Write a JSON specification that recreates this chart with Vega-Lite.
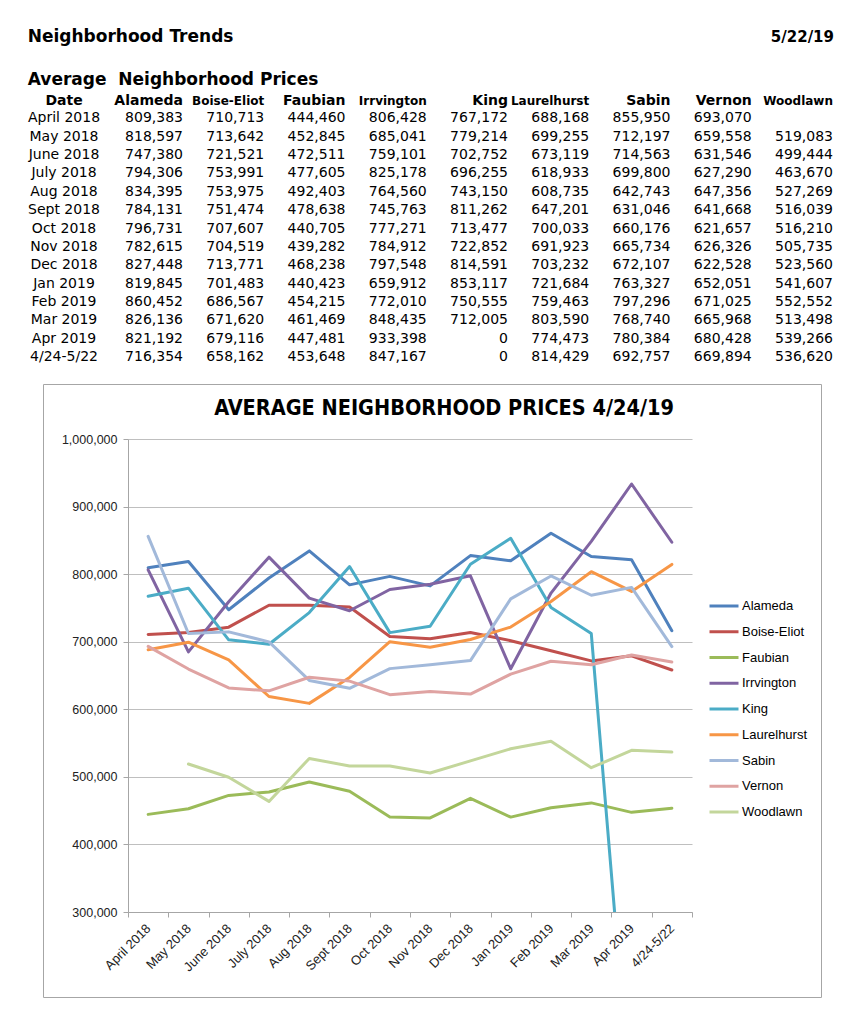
{
  "$schema": "https://vega.github.io/schema/vega-lite/v6.json",
  "background": "white",
  "padding": {"left": 27, "top": 28, "right": 0, "bottom": 0},
  "spacing": 20,
  "resolve": {"legend": {"color": "independent"}},
  "config": {
    "view": {"stroke": null},
    "font": "Liberation Sans",
    "text": {"font": "DejaVu Sans", "fontSize": 14, "color": "#000", "baseline": "alphabetic"}
  },
  "datasets": {
    "prices": [
      {"date": "April 2018", "Alameda": 809383, "Boise-Eliot": 710713, "Faubian": 444460, "Irrvington": 806428, "King": 767172, "Laurelhurst": 688168, "Sabin": 855950, "Vernon": 693070, "Woodlawn": null},
      {"date": "May 2018", "Alameda": 818597, "Boise-Eliot": 713642, "Faubian": 452845, "Irrvington": 685041, "King": 779214, "Laurelhurst": 699255, "Sabin": 712197, "Vernon": 659558, "Woodlawn": 519083},
      {"date": "June 2018", "Alameda": 747380, "Boise-Eliot": 721521, "Faubian": 472511, "Irrvington": 759101, "King": 702752, "Laurelhurst": 673119, "Sabin": 714563, "Vernon": 631546, "Woodlawn": 499444},
      {"date": "July 2018", "Alameda": 794306, "Boise-Eliot": 753991, "Faubian": 477605, "Irrvington": 825178, "King": 696255, "Laurelhurst": 618933, "Sabin": 699800, "Vernon": 627290, "Woodlawn": 463670},
      {"date": "Aug 2018", "Alameda": 834395, "Boise-Eliot": 753975, "Faubian": 492403, "Irrvington": 764560, "King": 743150, "Laurelhurst": 608735, "Sabin": 642743, "Vernon": 647356, "Woodlawn": 527269},
      {"date": "Sept 2018", "Alameda": 784131, "Boise-Eliot": 751474, "Faubian": 478638, "Irrvington": 745763, "King": 811262, "Laurelhurst": 647201, "Sabin": 631046, "Vernon": 641668, "Woodlawn": 516039},
      {"date": "Oct 2018", "Alameda": 796731, "Boise-Eliot": 707607, "Faubian": 440705, "Irrvington": 777271, "King": 713477, "Laurelhurst": 700033, "Sabin": 660176, "Vernon": 621657, "Woodlawn": 516210},
      {"date": "Nov 2018", "Alameda": 782615, "Boise-Eliot": 704519, "Faubian": 439282, "Irrvington": 784912, "King": 722852, "Laurelhurst": 691923, "Sabin": 665734, "Vernon": 626326, "Woodlawn": 505735},
      {"date": "Dec 2018", "Alameda": 827448, "Boise-Eliot": 713771, "Faubian": 468238, "Irrvington": 797548, "King": 814591, "Laurelhurst": 703232, "Sabin": 672107, "Vernon": 622528, "Woodlawn": 523560},
      {"date": "Jan 2019", "Alameda": 819845, "Boise-Eliot": 701483, "Faubian": 440423, "Irrvington": 659912, "King": 853117, "Laurelhurst": 721684, "Sabin": 763327, "Vernon": 652051, "Woodlawn": 541607},
      {"date": "Feb 2019", "Alameda": 860452, "Boise-Eliot": 686567, "Faubian": 454215, "Irrvington": 772010, "King": 750555, "Laurelhurst": 759463, "Sabin": 797296, "Vernon": 671025, "Woodlawn": 552552},
      {"date": "Mar 2019", "Alameda": 826136, "Boise-Eliot": 671620, "Faubian": 461469, "Irrvington": 848435, "King": 712005, "Laurelhurst": 803590, "Sabin": 768740, "Vernon": 665968, "Woodlawn": 513498},
      {"date": "Apr 2019", "Alameda": 821192, "Boise-Eliot": 679116, "Faubian": 447481, "Irrvington": 933398, "King": 0, "Laurelhurst": 774473, "Sabin": 780384, "Vernon": 680428, "Woodlawn": 539266},
      {"date": "4/24-5/22", "Alameda": 716354, "Boise-Eliot": 658162, "Faubian": 453648, "Irrvington": 847167, "King": 0, "Laurelhurst": 814429, "Sabin": 692757, "Vernon": 669894, "Woodlawn": 536620}
    ],
    "areas": [
      {"area": "Alameda"}, {"area": "Boise-Eliot"}, {"area": "Faubian"}, {"area": "Irrvington"}, {"area": "King"},
      {"area": "Laurelhurst"}, {"area": "Sabin"}, {"area": "Vernon"}, {"area": "Woodlawn"}
    ]
  },
  "vconcat": [
    {
      "width": 705,
      "height": 312,
      "layer": [
        {
          "data": {"values": [{}]},
          "mark": {"type": "text", "text": "Neighborhood Trends", "align": "left", "dx": -74, "dy": -2, "fontSize": 17, "fontWeight": "bold"},
          "encoding": {
            "x": {"datum": "Date", "type": "nominal", "axis": null, "scale": {"type": "point", "padding": 0, "domain": ["Date", "Alameda", "Boise-Eliot", "Faubian", "Irrvington", "King", "Laurelhurst", "Sabin", "Vernon", "Woodlawn"], "range": [-26.25, 705]}},
            "y": {"datum": "t", "type": "nominal", "axis": null, "scale": {"type": "point", "padding": 0, "domain": ["t", "g", "s", "h", "April 2018", "May 2018", "June 2018", "July 2018", "Aug 2018", "Sept 2018", "Oct 2018", "Nov 2018", "Dec 2018", "Jan 2019", "Feb 2019", "Mar 2019", "Apr 2019", "4/24-5/22"]}}
          }
        },
        {
          "data": {"values": [{}]},
          "mark": {"type": "text", "text": "5/22/19", "align": "right", "dx": 1, "dy": -2, "fontSize": 15, "fontWeight": "bold"},
          "encoding": {
            "x": {"datum": "Woodlawn", "type": "nominal", "axis": null},
            "y": {"datum": "t", "type": "nominal", "axis": null}
          }
        },
        {
          "data": {"values": [{}]},
          "mark": {"type": "text", "text": "Average\u00a0 Neighborhood Prices", "align": "left", "dx": -74, "dy": 4, "fontSize": 17, "fontWeight": "bold"},
          "encoding": {
            "x": {"datum": "Date", "type": "nominal", "axis": null},
            "y": {"datum": "s", "type": "nominal", "axis": null}
          }
        },
        {
          "data": {"values": [{}]},
          "mark": {"type": "text", "text": "Date", "align": "center", "dx": -37.75, "dy": 5.5, "fontWeight": "bold"},
          "encoding": {
            "x": {"datum": "Date", "type": "nominal", "axis": null},
            "y": {"datum": "h", "type": "nominal", "axis": null}
          }
        },
        {
          "data": {"name": "areas"},
          "mark": {"type": "text", "align": "right", "dy": 5.5, "fontWeight": "bold"},
          "encoding": {
            "x": {"field": "area", "type": "nominal", "axis": null},
            "y": {"datum": "h", "type": "nominal", "axis": null},
            "text": {"field": "area", "type": "nominal"},
            "size": {"condition": {"test": "length(datum.area) > 7", "value": 12}, "value": 14}
          }
        },
        {
          "data": {"name": "prices"},
          "mark": {"type": "text", "align": "center", "dx": -37.75, "dy": 5},
          "encoding": {
            "x": {"datum": "Date", "type": "nominal", "axis": null},
            "y": {"field": "date", "type": "nominal", "axis": null},
            "text": {"field": "date", "type": "nominal"}
          }
        },
        {
          "data": {"name": "prices"},
          "transform": [
            {"fold": ["Alameda", "Boise-Eliot", "Faubian", "Irrvington", "King", "Laurelhurst", "Sabin", "Vernon", "Woodlawn"], "as": ["col", "v"]},
            {"filter": "isValid(datum.v)"}
          ],
          "mark": {"type": "text", "align": "right", "dy": 5},
          "encoding": {
            "x": {"field": "col", "type": "nominal", "axis": null},
            "y": {"field": "date", "type": "nominal", "axis": null},
            "text": {"field": "v", "type": "quantitative", "format": ","}
          }
        }
      ]
    },
    {
      "width": 564,
      "height": 473,
      "title": {
        "text": "AVERAGE NEIGHBORHOOD PRICES 4/24/19",
        "font": "DejaVu Sans Condensed, Liberation Sans",
        "fontSize": 21.5,
        "fontWeight": "bold",
        "color": "#000",
        "anchor": "middle",
        "frame": "group",
        "dx": 34,
        "offset": -35
      },
      "data": {"name": "prices"},
      "transform": [
        {"fold": ["Alameda", "Boise-Eliot", "Faubian", "Irrvington", "King", "Laurelhurst", "Sabin", "Vernon", "Woodlawn"], "as": ["area", "price"]}
      ],
      "layer": [
        {
          "mark": {"type": "line", "strokeWidth": 3, "clip": true, "strokeJoin": "round", "strokeCap": "round"},
          "encoding": {
            "x": {
              "field": "date", "type": "ordinal", "bandPosition": 0.5,
              "scale": {"type": "band", "paddingInner": 0, "paddingOuter": 0, "domain": ["April 2018", "May 2018", "June 2018", "July 2018", "Aug 2018", "Sept 2018", "Oct 2018", "Nov 2018", "Dec 2018", "Jan 2019", "Feb 2019", "Mar 2019", "Apr 2019", "4/24-5/22"]},
              "axis": {"orient": "bottom", "title": null, "tickBand": "extent", "grid": false, "domainColor": "#A6A6A6", "tickColor": "#A6A6A6", "tickSize": 5, "labelAngle": -45, "labelAlign": "right", "labelBaseline": "middle", "labelFont": "Liberation Sans", "labelFontSize": 13, "labelColor": "#222", "labelPadding": 9}
            },
            "y": {
              "field": "price", "type": "quantitative",
              "scale": {"domain": [300000, 1000000], "nice": false, "zero": false},
              "axis": {"title": null, "values": [300000, 400000, 500000, 600000, 700000, 800000, 900000, 1000000], "labelExpr": "format(datum.value, ',')", "grid": true, "gridColor": "#BFBFBF", "domainColor": "#A6A6A6", "tickColor": "#A6A6A6", "tickSize": 5, "labelFont": "Liberation Sans", "labelFontSize": 12.5, "labelColor": "#222", "labelPadding": 6}
            },
            "color": {
              "field": "area", "type": "nominal",
              "scale": {"domain": ["Alameda", "Boise-Eliot", "Faubian", "Irrvington", "King", "Laurelhurst", "Sabin", "Vernon", "Woodlawn"], "range": ["#4F81BD", "#C0504D", "#9BBB59", "#8064A2", "#4BACC6", "#F79646", "#A2B9DA", "#DFA3A2", "#C3D69B"]},
              "legend": {"title": null, "orient": "none", "legendX": 580, "legendY": 151, "symbolType": "stroke", "symbolSize": 841, "symbolStrokeWidth": 3, "labelFont": "Liberation Sans", "labelFontSize": 13, "labelColor": "#000", "rowPadding": 2.75, "labelOffset": 2}
            },
            "order": {"value": null}
          }
        },
        {
          "mark": {"type": "point", "opacity": 0, "size": 0},
          "encoding": {
            "x": {
              "field": "date", "type": "ordinal",
              "scale": {"type": "band", "paddingInner": 0, "paddingOuter": 0, "range": [-85, 693]},
              "axis": {"orient": "top", "offset": 55, "title": null, "ticks": false, "labels": false, "grid": false, "domainColor": "#A6A6A6"}
            },
            "y": {
              "field": "price", "type": "quantitative",
              "scale": {"range": [558, -55], "zero": false},
              "axis": {"orient": "left", "offset": 85, "title": null, "ticks": false, "labels": false, "grid": false, "domainColor": "#A6A6A6"}
            }
          }
        },
        {
          "mark": {"type": "point", "opacity": 0, "size": 0},
          "encoding": {
            "x": {
              "field": "date", "type": "ordinal",
              "scale": {"type": "band", "paddingInner": 0, "paddingOuter": 0, "range": [-85, 693]},
              "axis": {"orient": "bottom", "offset": 85, "title": null, "ticks": false, "labels": false, "grid": false, "domainColor": "#A6A6A6"}
            },
            "y": {
              "field": "price", "type": "quantitative",
              "scale": {"range": [558, -55], "zero": false},
              "axis": {"orient": "right", "offset": 129, "title": null, "ticks": false, "labels": false, "grid": false, "domainColor": "#A6A6A6"}
            }
          }
        }
      ],
      "resolve": {"scale": {"x": "independent", "y": "independent"}}
    }
  ]
}
